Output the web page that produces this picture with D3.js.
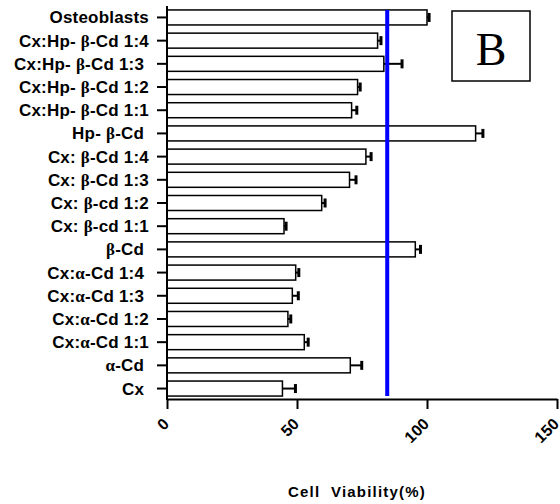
<!DOCTYPE html>
<html><head><meta charset="utf-8">
<script src="https://cdn.jsdelivr.net/npm/d3@7"></script>
<style>
html,body{margin:0;padding:0;background:#fff;}
svg{display:block;}
text{white-space:pre;}
</style></head>
<body><svg id="chart" width="560" height="504"></svg>
<script>
const categories = ["Osteoblasts","Cx:Hp- β-Cd 1:4","Cx:Hp- β-Cd 1:3 ","Cx:Hp- β-Cd 1:2","Cx:Hp- β-Cd 1:1","Hp- β-Cd ","Cx: β-Cd 1:4","Cx: β-Cd 1:3","Cx: β-cd 1:2","Cx: β-cd 1:1","β-Cd ","Cx:α-Cd 1:4 ","Cx:α-Cd 1:3 ","Cx:α-Cd 1:2","Cx:α-Cd 1:1","α-Cd ","Cx "];
const viability = [100,81,83.4,73.3,71,118.7,76.5,70.2,59.5,45,95.5,49.5,48.2,46.5,52.8,70.5,44.4];
const errors = [0.8,1.3,7,1,2,2.8,2,2.5,1.3,0.8,2,1.2,2.3,1.1,1.5,4.4,5];
const xTicks = [0,50,100,150];
const referenceLine = 84.7;
const xTitle = "Cell  Viability(%)";
const panelLabel = "B";

const svg = d3.select("#chart");
const x = d3.scaleLinear().domain([0,150]).range([167,557]);
const y = d3.scaleBand().domain(categories).range([6,400]).paddingInner(0.353).paddingOuter(0.17);

// bars
svg.append("g").selectAll("rect").data(categories).join("rect")
  .attr("x", x(0)).attr("y", d=>y(d))
  .attr("width", (d,i)=>x(viability[i])-x(0)).attr("height", y.bandwidth())
  .attr("fill","#fff").attr("stroke","#000").attr("stroke-width",1.5);

// error bars
const eb = svg.append("g");
categories.forEach((c,i)=>{
  const cy = y(c)+y.bandwidth()/2;
  eb.append("line").attr("x1",x(viability[i])).attr("x2",x(viability[i]+errors[i]))
    .attr("y1",cy).attr("y2",cy).attr("stroke","#000").attr("stroke-width",2);
  eb.append("line").attr("x1",x(viability[i]+errors[i])).attr("x2",x(viability[i]+errors[i]))
    .attr("y1",cy-4.5).attr("y2",cy+4.5).attr("stroke","#000").attr("stroke-width",3);
});

// reference line
svg.append("line").attr("x1",x(referenceLine)).attr("x2",x(referenceLine))
  .attr("y1",10).attr("y2",396).attr("stroke","#0000ff").attr("stroke-width",4);

// y axis
const yAxis = svg.append("g").attr("transform","translate(167,0)")
  .call(d3.axisLeft(y).tickSize(10).tickSizeOuter(0).tickFormat(""));
yAxis.select(".domain").attr("stroke-width",2).attr("d","M0,6V400");
yAxis.selectAll(".tick line").attr("stroke-width",2);

// y labels with Greek in serif
const labG = svg.append("g");
categories.forEach(c=>{
  const t = labG.append("text").attr("x",149).attr("y",y(c)+y.bandwidth()/2+6)
    .attr("text-anchor","end").attr("font-family","Liberation Sans, Arial, sans-serif")
    .attr("font-weight","bold").attr("font-size",17).attr("letter-spacing",0.2);
  c.split(/([αβ])/).forEach(p=>{
    if(!p) return;
    const s = t.append("tspan").text(p);
    if(/[αβ]/.test(p)) s.attr("font-family","Liberation Serif, Times New Roman, serif").attr("font-size",17);
  });
});

// x axis
const xAxis = svg.append("g").attr("transform","translate(0,399)")
  .call(d3.axisBottom(x).tickValues(xTicks).tickSize(10).tickSizeOuter(0).tickFormat(d3.format("d")));
xAxis.select(".domain").attr("stroke-width",2);
xAxis.selectAll(".tick line").attr("stroke-width",2);
xAxis.selectAll(".tick text")
  .attr("font-family","Liberation Sans, Arial, sans-serif").attr("font-weight","bold").attr("font-size",16)
  .attr("text-anchor","end").attr("y",0).attr("dy",0)
  .attr("transform","translate(2.5,26) rotate(-45)");

// x title
svg.append("text").attr("x",357).attr("y",497).attr("text-anchor","middle")
  .attr("font-family","Liberation Sans, Arial, sans-serif").attr("font-weight","bold")
  .attr("font-size",15).attr("letter-spacing",1.2).text(xTitle);

// panel label
svg.append("rect").attr("x",452).attr("y",11).attr("width",78).attr("height",70)
  .attr("fill","#fff").attr("stroke","#000").attr("stroke-width",1.5);
svg.append("text").attr("x",491).attr("y",65).attr("text-anchor","middle")
  .attr("font-family","Liberation Serif, Times New Roman, serif").attr("font-size",46).text(panelLabel);
</script></body></html>
